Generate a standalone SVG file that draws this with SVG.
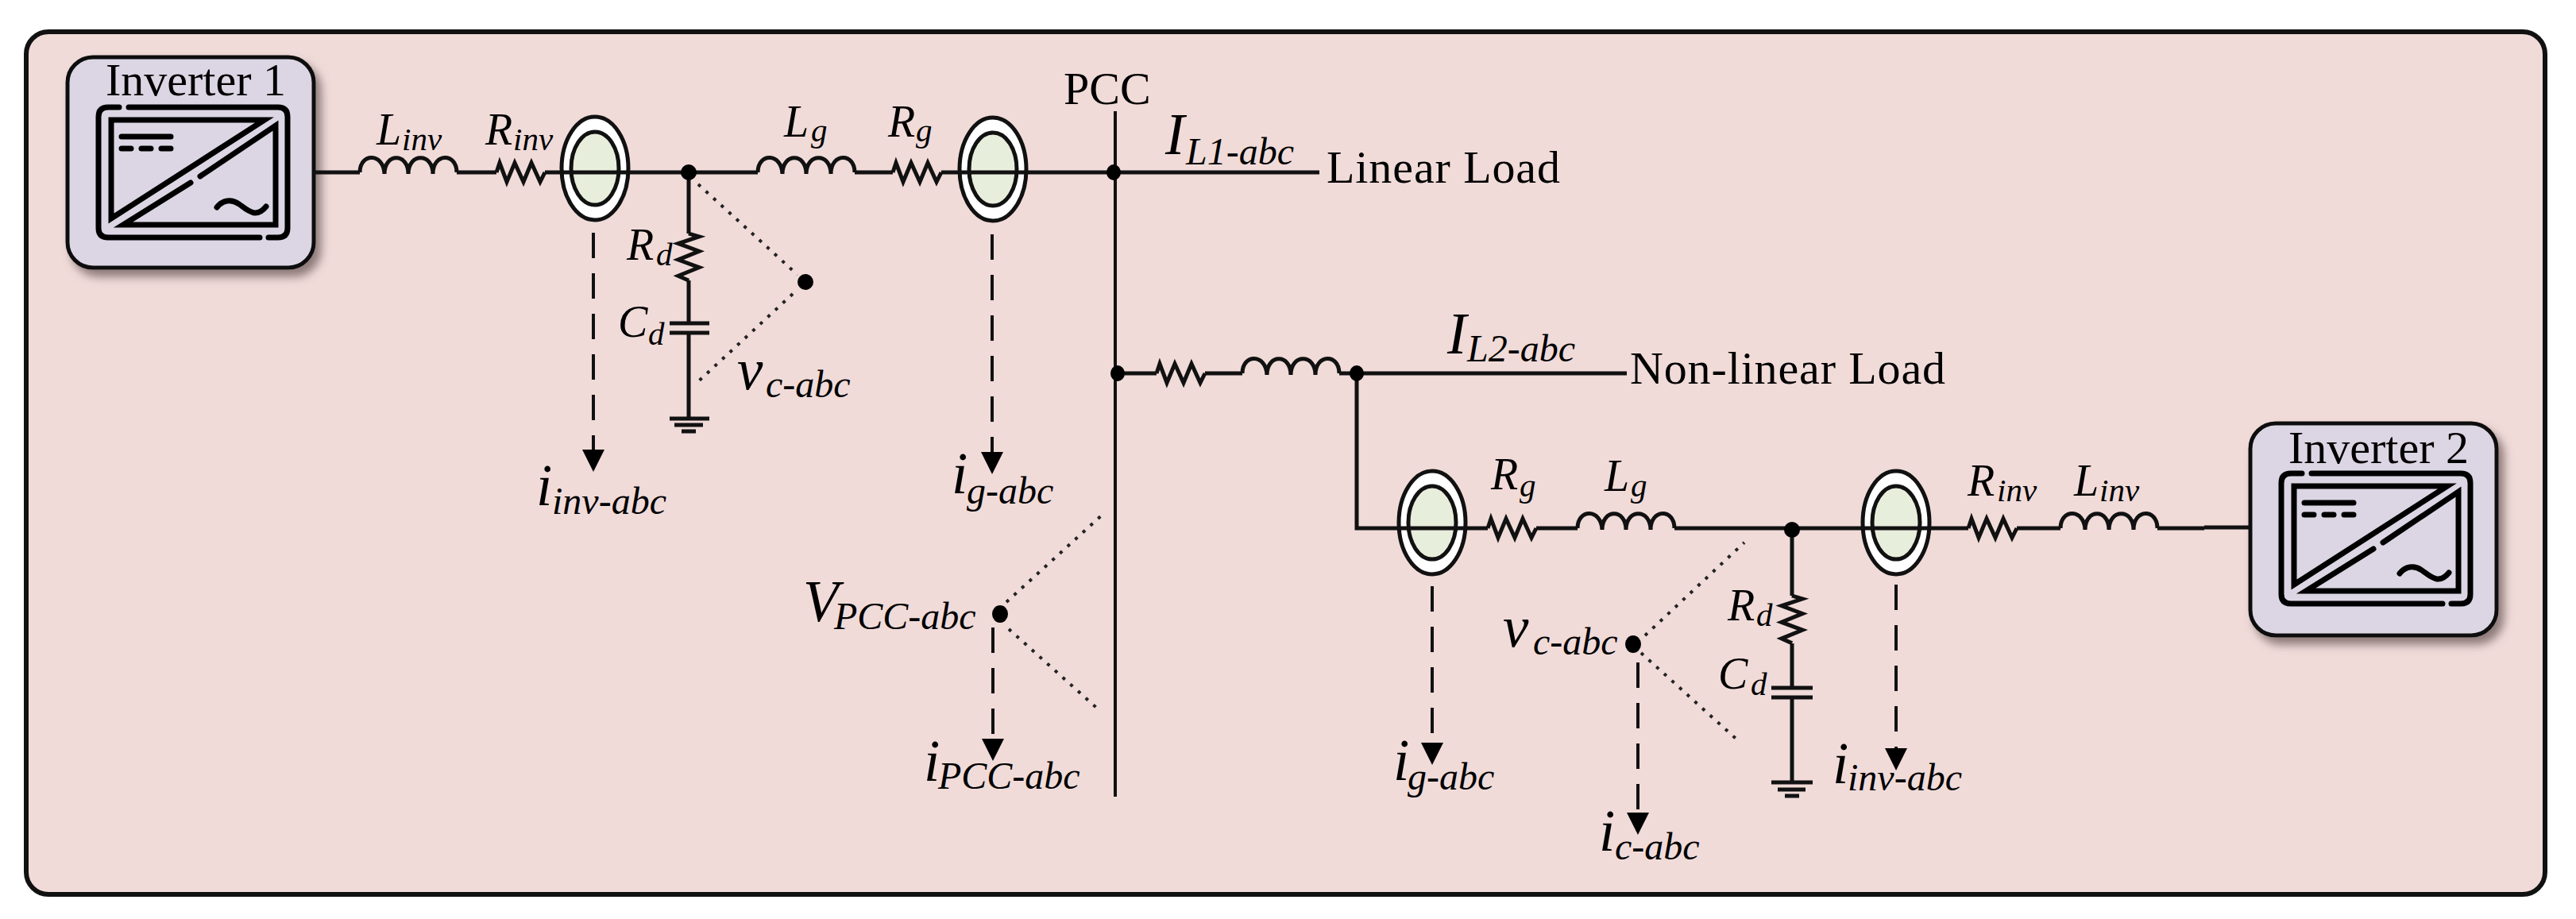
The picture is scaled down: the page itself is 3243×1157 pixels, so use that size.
<svg xmlns="http://www.w3.org/2000/svg" xmlns:xlink="http://www.w3.org/1999/xlink" width="3243" height="1157" viewBox="0 0 3243 1157">
<style>
text{font-family:"Liberation Serif","Times New Roman",serif;fill:#000}
.t{font-size:58px}
.it{font-style:italic}
.a{font-size:56px}
.b{font-size:41px}
.c{font-size:73px}
.d{font-size:48px}
.w{fill:none;stroke:#111;stroke-width:5}
.thin{fill:none;stroke:#111;stroke-width:4}
.dash{fill:none;stroke:#111;stroke-width:4;stroke-dasharray:32 19}
.dot{fill:none;stroke:#222;stroke-width:4;stroke-dasharray:4 9}
.ic{fill:none;stroke:#000;stroke-width:7;stroke-linejoin:miter;stroke-linecap:round}
.ct1{fill:#fff;stroke:#111;stroke-width:5}
.ct2{fill:#e8eedc;stroke:#111;stroke-width:5}
.box{fill:#dcd6e4;stroke:#111;stroke-width:5;filter:url(#sh)}
.j{fill:#000}
</style>
<defs>
<filter id="sh" x="-10%" y="-10%" width="125%" height="125%"><feDropShadow dx="7" dy="9" stdDeviation="6" flood-color="#6a5a5a" flood-opacity=".75"/></filter>
<path id="res" d="M0 0L4 -12L13 12L23 -12L34 12L44 -12L55 12L61 0"/>
<path id="ind" d="M0 0C0 -25 30 -25 31 2C31 -25 61 -25 61 2C61 -25 92 -25 92 2C92 -25 122 -25 122 0"/>
<path id="arr" d="M-14 0H14L0 28Z"/>
<g id="ctg"><ellipse cx="0" cy="0" rx="42" ry="65" class="ct1"/><ellipse cx="0" cy="0" rx="30" ry="46" class="ct2"/></g>
<g id="icon">
<path class="ic" d="M150 135H136Q124 135 124 147V287Q124 299 136 299H327M338 299H350Q362 299 362 287V147Q362 135 350 135H162"/>
<path class="ic" d="M333 151H140V275Z"/>
<path class="ic" d="M240 230L155 283H347V158L252 222"/>
<path class="ic" d="M153 172H215M153 187H165M178 187H190M203 187H215"/>
<path class="ic" d="M273 261C280 252 291 250 301 257S322 276 335 260"/>
</g>
</defs>

<rect id="frame" x="33" y="40" width="3171" height="1086" rx="28" fill="#f0dbd9" stroke="#111" stroke-width="6"/>

<g id="inverter1">
<rect class="box" x="85" y="72" width="310" height="265" rx="32"/>
<use href="#icon"/>
<text class="t" x="133" y="120">Inverter 1</text>
</g>
<g id="inverter2">
<rect class="box" x="2833" y="533" width="310" height="267" rx="32"/>
<use href="#icon" transform="translate(2748 461)"/>
<text class="t" x="2881" y="583">Inverter 2</text>
</g>

<g id="ct-inv1"><use href="#ctg" x="749" y="212"/></g>
<g id="ct-g1"><use href="#ctg" x="1250" y="213"/></g>
<g id="ct-g2"><use href="#ctg" x="1803" y="658"/></g>
<g id="ct-inv2"><use href="#ctg" x="2387" y="658"/></g>

<g id="connectors">
<path class="w" d="M395 217H453M575 217H625M686 217H954M1076 217H1124M1185 217H1661"/>
<path class="w" d="M867 217V294M867 353V407M867 419V527"/>
<path class="thin" d="M1404 140V1003"/>
<path class="w" d="M1407 470H1456M1517 470H1564M1686 470H2048"/>
<path class="w" d="M1708 470V665H1873M1934 665H1986M2108 665H2478M2539 665H2594M2716 665H2775M2775 664H2833"/>
<path class="w" d="M2256 665V750M2256 810V866M2256 878V985"/>
<path class="dash" d="M747 293V566"/>
<path class="dash" d="M1249 295V569"/>
<path class="dash" d="M1803 738V936"/>
<path class="dash" d="M2387 736V942"/>
<path class="dash" d="M2062 834V1023"/>
<path class="dash" d="M1250 790V930"/>
<path class="dot" d="M879 232L1004 346"/>
<path class="dot" d="M998 370L875 484"/>
<path class="dot" d="M1267 758L1391 645"/>
<path class="dot" d="M1270 792L1386 896"/>
<path class="dot" d="M2071 800L2196 683"/>
<path class="dot" d="M2066 822L2191 935"/>
<use href="#arr" x="747" y="566"/>
<use href="#arr" x="1249" y="569"/>
<use href="#arr" x="1803" y="935"/>
<use href="#arr" x="2387" y="942"/>
<use href="#arr" x="2062" y="1023"/>
<use href="#arr" x="1250" y="930"/>
</g>

<g id="L-inv1" class="w"><use href="#ind" x="453" y="217"/></g>
<g id="R-inv1" class="w"><use href="#res" x="625" y="217"/></g>
<g id="L-g1" class="w"><use href="#ind" x="954" y="217"/></g>
<g id="R-g1" class="w"><use href="#res" x="1124" y="217"/></g>
<g id="R-line" class="w"><use href="#res" x="1456" y="470"/></g>
<g id="L-line" class="w"><use href="#ind" x="1564" y="470"/></g>
<g id="R-g2" class="w"><use href="#res" x="1873" y="665"/></g>
<g id="L-g2" class="w"><use href="#ind" x="1986" y="665"/></g>
<g id="R-inv2" class="w"><use href="#res" x="2478" y="665"/></g>
<g id="L-inv2" class="w"><use href="#ind" x="2594" y="665"/></g>
<g id="R-d1" class="w"><use href="#res" transform="translate(867 294) rotate(90) scale(.97 1.1)"/></g>
<g id="R-d2" class="w"><use href="#res" transform="translate(2256 750) rotate(90) scale(.98 1.1)"/></g>
<g id="C-d1" class="w"><path d="M843 407H893M843 419H893"/></g>
<g id="C-d2" class="w"><path d="M2230 866H2282M2230 878H2282"/></g>
<g id="gnd1" class="w"><path d="M843 527H893M849 535H885M858 543H876"/></g>
<g id="gnd2" class="w"><path d="M2230 985H2282M2238 994H2273M2247 1002H2265"/></g>

<g id="junctions">
<circle class="j" cx="867" cy="217" r="10"/>
<circle class="j" cx="1014" cy="355" r="10"/>
<ellipse class="j" cx="1402" cy="217" rx="9" ry="10"/>
<ellipse class="j" cx="1407" cy="470" rx="9" ry="10"/>
<ellipse class="j" cx="1708" cy="470" rx="9" ry="10"/>
<ellipse class="j" cx="1259" cy="773" rx="10" ry="11"/>
<ellipse class="j" cx="2056" cy="811" rx="10" ry="11"/>
<ellipse class="j" cx="2256" cy="667" rx="10" ry="10"/>
</g>

<g id="labels">
<text class="t" x="1339" y="131">PCC</text>
<text class="t" x="1670" y="230" textLength="294">Linear Load</text>
<text class="t" x="2052" y="483" textLength="397">Non-linear Load</text>

<text class="it"><tspan class="a" x="474" y="182">L</tspan><tspan class="b" x="506" y="189">inv</tspan></text>
<text class="it"><tspan class="a" x="611" y="182">R</tspan><tspan class="b" x="646" y="189">inv</tspan></text>
<text class="it"><tspan class="a" x="987" y="172">L</tspan><tspan class="b" x="1021" y="178">g</tspan></text>
<text class="it"><tspan class="a" x="1118" y="172">R</tspan><tspan class="b" x="1153" y="178">g</tspan></text>
<text class="it"><tspan class="a" x="789" y="327">R</tspan><tspan class="b" x="826" y="334">d</tspan></text>
<text class="it"><tspan class="a" x="778" y="424">C</tspan><tspan class="b" x="816" y="434">d</tspan></text>
<text class="it"><tspan class="c" x="928" y="490">v</tspan><tspan class="d" x="964" y="500">c-abc</tspan></text>
<text class="it"><tspan class="c" x="675" y="636">i</tspan><tspan class="d" x="695" y="647">inv-abc</tspan></text>
<text class="it"><tspan class="c" x="1198" y="621">i</tspan><tspan class="d" x="1217" y="634">g-abc</tspan></text>
<text class="it"><tspan class="c" x="1467" y="194">I</tspan><tspan class="d" x="1493" y="207">L1-abc</tspan></text>
<text class="it"><tspan class="c" x="1822" y="445">I</tspan><tspan class="d" x="1847" y="455">L2-abc</tspan></text>
<text class="it"><tspan class="c" x="1011" y="782">V</tspan><tspan class="d" x="1050" y="792">PCC-abc</tspan></text>
<text class="it"><tspan class="c" x="1163" y="983">i</tspan><tspan class="d" x="1181" y="993">PCC-abc</tspan></text>
<text class="it"><tspan class="a" x="1877" y="616">R</tspan><tspan class="b" x="1913" y="625">g</tspan></text>
<text class="it"><tspan class="a" x="2020" y="618">L</tspan><tspan class="b" x="2053" y="625">g</tspan></text>
<text class="it"><tspan class="a" x="2477" y="624">R</tspan><tspan class="b" x="2514" y="631">inv</tspan></text>
<text class="it"><tspan class="a" x="2611" y="624">L</tspan><tspan class="b" x="2643" y="631">inv</tspan></text>
<text class="it"><tspan class="a" x="2175" y="781">R</tspan><tspan class="b" x="2211" y="788">d</tspan></text>
<text class="it"><tspan class="a" x="2163" y="867">C</tspan><tspan class="b" x="2204" y="875">d</tspan></text>
<text class="it"><tspan class="c" x="1892" y="814">v</tspan><tspan class="d" x="1930" y="824">c-abc</tspan></text>
<text class="it"><tspan class="c" x="2013" y="1071">i</tspan><tspan class="d" x="2033" y="1082">c-abc</tspan></text>
<text class="it"><tspan class="c" x="1754" y="982">i</tspan><tspan class="d" x="1772" y="994">g-abc</tspan></text>
<text class="it"><tspan class="c" x="2307" y="986">i</tspan><tspan class="d" x="2326" y="995">inv-abc</tspan></text>
</g>
</svg>
